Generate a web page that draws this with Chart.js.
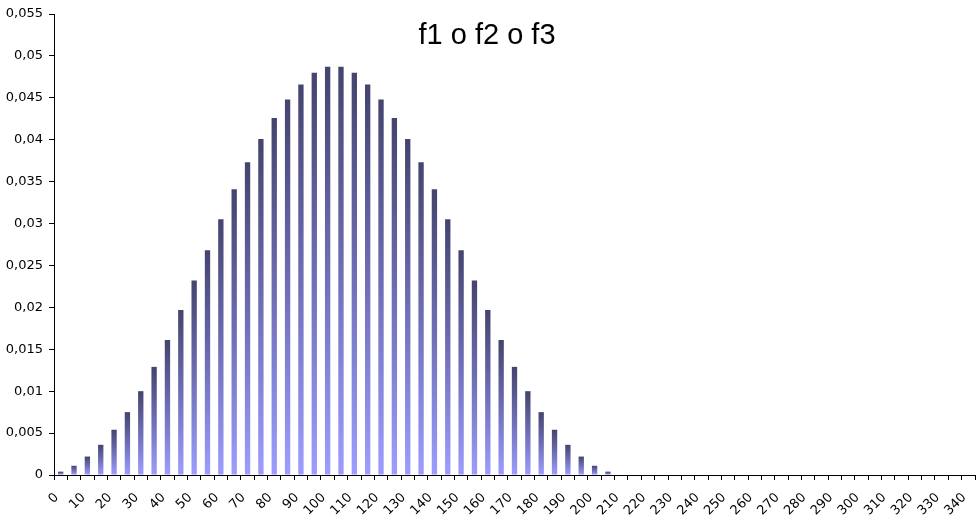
<!DOCTYPE html>
<html>
<head>
<meta charset="utf-8">
<script src="https://cdn.jsdelivr.net/npm/chart.js@4"></script>
<style>
  html, body { margin: 0; padding: 0; background: #fff; }
  #wrap { width: 980px; height: 524px; position: relative; }
</style>
</head>
<body>
<div id="wrap"><canvas id="chartF"></canvas></div>
<script>
// categorias 0, 5, 10, ... 340 (rótulo só a cada 10)
const categorias = [
  0, 5, 10, 15, 20, 25, 30, 35, 40, 45, 50, 55, 60, 65, 70, 75, 80, 85, 90, 95,
  100, 105, 110, 115, 120, 125, 130, 135, 140, 145, 150, 155, 160, 165, 170, 175, 180, 185, 190, 195,
  200, 205, 210, 215, 220, 225, 230, 235, 240, 245, 250, 255, 260, 265, 270, 275, 280, 285, 290, 295,
  300, 305, 310, 315, 320, 325, 330, 335, 340
];

// valores
const valores = [
  0.0004, 0.0011, 0.0022, 0.0036, 0.0054, 0.0075, 0.0100, 0.0129, 0.0161, 0.0197,
  0.0232, 0.0268, 0.0305, 0.0341, 0.0373, 0.0401, 0.0426, 0.0448, 0.0466, 0.0480,
  0.0487, 0.0487, 0.0480, 0.0466, 0.0448, 0.0426, 0.0401, 0.0373, 0.0341, 0.0305,
  0.0268, 0.0232, 0.0197, 0.0161, 0.0129, 0.0100, 0.0075, 0.0054, 0.0036, 0.0022,
  0.0011, 0.0004, 0, 0, 0, 0, 0, 0, 0, 0,
  0, 0, 0, 0, 0, 0, 0, 0, 0, 0,
  0, 0, 0, 0, 0, 0, 0, 0, 0
];

const titulo = 'f1 o f2 o f3';
const yMax = 0.055;
const yPasso = 0.005;

Chart.defaults.font.family = "'DejaVu Sans', sans-serif";
Chart.defaults.font.size = 13;
Chart.defaults.color = '#000';

// gradiente por barra: escuro em cima, lilás embaixo
function corBarra(c) {
  const chart = c.chart;
  const y = chart.scales && chart.scales.y;
  if (!y || c.type !== 'data' || !c.raw) return '#46466f';
  const topo = y.getPixelForValue(c.raw);
  const base = y.getPixelForValue(0);
  if (!(base > topo)) return '#46466f';
  const g = chart.ctx.createLinearGradient(0, topo, 0, base);
  g.addColorStop(0, '#44446e');
  g.addColorStop(0.5, '#6e6eb6');
  g.addColorStop(1, '#9d9dff');
  return g;
}

// título desenhado por cima da área do gráfico
const tituloPlugin = {
  id: 'tituloSobre',
  afterDraw(chart) {
    const ctx = chart.ctx;
    ctx.save();
    ctx.font = "29px 'Liberation Sans', Arial, sans-serif";
    ctx.fillStyle = '#000';
    ctx.textAlign = 'center';
    ctx.textBaseline = 'alphabetic';
    ctx.fillText(titulo, 487, 44);
    ctx.restore();
  }
};

new Chart(document.getElementById('chartF'), {
  type: 'bar',
  data: {
    labels: categorias,
    datasets: [{
      data: valores,
      backgroundColor: corBarra,
      borderWidth: 0,
      barPercentage: 0.4,
      categoryPercentage: 1
    }]
  },
  options: {
    responsive: true,
    maintainAspectRatio: false,
    animation: false,
    layout: { padding: { top: 14, right: 5, left: 0, bottom: 0 } },
    plugins: {
      legend: { display: false },
      tooltip: { enabled: false },
      title: { display: false }
    },
    scales: {
      x: {
        offset: true,
        border: { display: true, color: '#000', width: 1 },
        grid: { display: true, offset: true, drawOnChartArea: false, drawTicks: true, tickLength: 5, color: '#000' },
        ticks: {
          autoSkip: false,
          minRotation: 45,
          maxRotation: 45,
          padding: 10,
          labelOffset: -4,
          callback: function (v, i) { return i % 2 === 0 ? String(categorias[i]) : ''; }
        },
        afterFit: (s) => { s.height = 49; s.paddingLeft = 0; s.paddingRight = 0; }
      },
      y: {
        min: 0,
        max: yMax,
        border: { display: true, color: '#000', width: 1 },
        grid: { display: true, drawOnChartArea: false, drawTicks: true, tickLength: 5, color: '#000' },
        ticks: {
          stepSize: yPasso,
          padding: 6,
          callback: (v) => Number(v.toFixed(3)).toString().replace('.', ',')
        },
        afterFit: (s) => { s.width = 54; s.paddingTop = 0; s.paddingBottom = 0; }
      }
    }
  },
  plugins: [tituloPlugin]
});
</script>
</body>
</html>
